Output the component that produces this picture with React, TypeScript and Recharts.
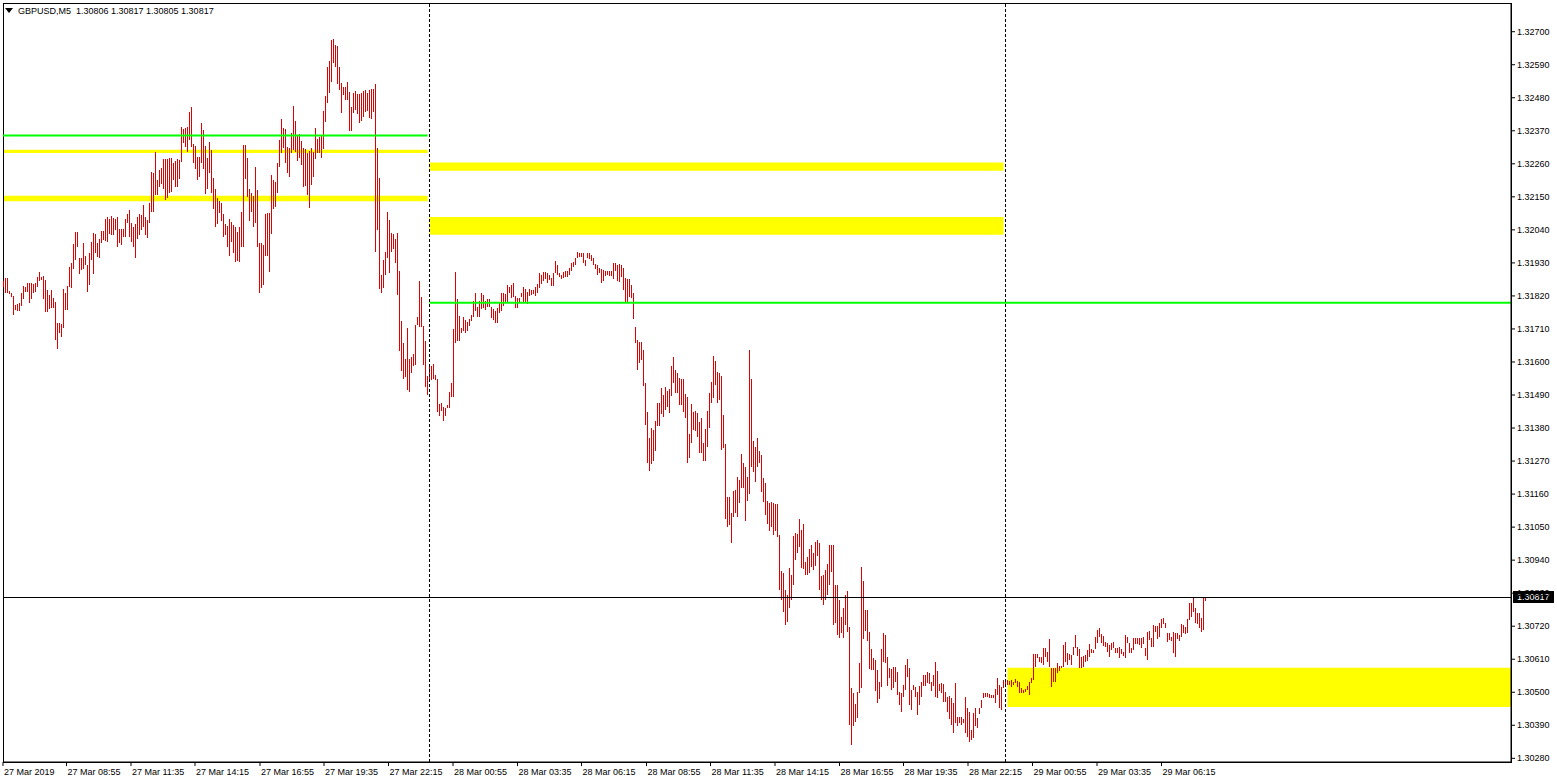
import {
  ComposedChart,
  Bar,
  XAxis,
  YAxis,
  ReferenceArea,
  ReferenceLine,
} from 'recharts';

// [high, low] per M5 bar
const bars27: [number, number][] = [
  [1.3187,1.3185],[1.3188,1.3183],[1.3188,1.3183],[1.31837,1.31827],[1.3183,1.31817],[1.3182,1.31757],[1.3179,1.31773],[1.31793,1.3177],[1.31797,1.3177],[1.3183,1.31787],
  [1.31853,1.3181],[1.3185,1.31833],[1.31863,1.31833],[1.31863,1.31797],[1.31863,1.3181],[1.3186,1.3183],[1.31863,1.31833],[1.31883,1.3185],[1.319,1.3187],[1.31883,1.31873],
  [1.31887,1.3181],[1.31873,1.31767],[1.3184,1.31767],[1.31823,1.31777],[1.3184,1.3178],[1.31813,1.3178],[1.318,1.31673],[1.3173,1.31643],[1.3173,1.31697],[1.31727,1.31683],
  [1.31843,1.31713],[1.3183,1.31773],[1.31853,1.31773],[1.31917,1.3185],[1.3193,1.31847],[1.31993,1.3191],[1.32033,1.3194],[1.32033,1.31983],[1.31947,1.31893],[1.31947,1.31907],
  [1.31997,1.3191],[1.31953,1.31923],[1.31923,1.31833],[1.31963,1.31857],[1.32,1.3194],[1.3203,1.31893],[1.32027,1.31963],[1.31997,1.3195],[1.3201,1.31947],[1.32037,1.31997],
  [1.32037,1.32007],[1.32077,1.32003],[1.32083,1.32],[1.32077,1.32027],[1.32087,1.32023],[1.3208,1.32023],[1.32077,1.3204],[1.32083,1.31983],[1.32043,1.31997],[1.32043,1.3199],
  [1.32043,1.32017],[1.32077,1.32017],[1.32093,1.32063],[1.32107,1.32017],[1.32063,1.32],[1.3205,1.31983],[1.3206,1.31947],[1.32083,1.3201],[1.32093,1.32023],[1.3209,1.3204],
  [1.32123,1.3205],[1.32083,1.32023],[1.32073,1.32013],[1.3213,1.32063],[1.32233,1.321],[1.3223,1.321],[1.323,1.32157],[1.32207,1.32157],[1.3224,1.32183],[1.32247,1.32193],
  [1.32277,1.32177],[1.32277,1.3214],[1.32277,1.32147],[1.3228,1.32163],[1.3228,1.32167],[1.32263,1.32207],[1.3227,1.32183],[1.32277,1.32183],[1.32273,1.3221],[1.32383,1.32267],
  [1.32377,1.3233],[1.3238,1.32317],[1.32383,1.323],[1.32433,1.3234],[1.3245,1.32317],[1.32327,1.32263],[1.3232,1.32243],[1.32283,1.32207],[1.32283,1.32217],[1.32397,1.32263],
  [1.32373,1.32243],[1.3232,1.3216],[1.3228,1.32177],[1.32333,1.3223],[1.32307,1.32163],[1.32213,1.3211],[1.32177,1.3205],[1.32147,1.3206],[1.32137,1.32097],[1.3213,1.3207],
  [1.32093,1.32017],[1.3206,1.32023],[1.32053,1.31983],[1.32077,1.31953],[1.32067,1.32],[1.32057,1.31963],[1.3205,1.31933],[1.32033,1.31937],[1.3205,1.31933],[1.321,1.31983],
  [1.32323,1.31983],[1.32323,1.3221],[1.3228,1.3215],[1.32177,1.3207],[1.32163,1.321],[1.32153,1.3205],[1.3225,1.32063],[1.32173,1.31983],[1.31997,1.3183],[1.31997,1.31847],
  [1.3199,1.31857],[1.32093,1.31953],[1.32097,1.31953],[1.32097,1.319],[1.32223,1.32027],[1.32207,1.3211],[1.322,1.32117],[1.32263,1.32163],[1.3234,1.3225],[1.3241,1.32297],
  [1.3238,1.32313],[1.32377,1.32263],[1.32317,1.3223],[1.32313,1.32217],[1.32363,1.32297],[1.32453,1.32307],[1.32403,1.323],[1.32353,1.3227],[1.3236,1.3228],[1.32337,1.32257],
  [1.32313,1.32183],[1.3231,1.32187],[1.32297,1.32157],[1.32303,1.32113],[1.32313,1.3219],[1.323,1.32217],[1.3238,1.32277],[1.32343,1.32297],[1.3235,1.32297],[1.32353,1.3228],
  [1.32437,1.3231],[1.32487,1.324],[1.32583,1.32463],[1.32603,1.32497],[1.32673,1.32533],[1.32677,1.32597],[1.32657,1.32583],[1.32653,1.32527],[1.32583,1.32507],[1.3253,1.3243],
  [1.32517,1.3249],[1.32517,1.32473],[1.32533,1.32473],[1.325,1.3237],[1.3245,1.3237],[1.32497,1.3243],[1.32503,1.3244],[1.32493,1.32427],[1.32493,1.32397],[1.32497,1.32403],
  [1.32503,1.32417],[1.32507,1.32433],[1.32497,1.32437],[1.32507,1.32413],[1.3251,1.3241],[1.3251,1.32433],[1.32527,1.31967],[1.32313,1.3204],[1.32213,1.31843],[1.3189,1.3183],
  [1.3194,1.31847],[1.31967,1.3189],[1.321,1.31947],[1.32073,1.31897],[1.3203,1.31967],[1.32027,1.31977],[1.3201,1.3193],[1.3203,1.31823],[1.31903,1.31637],[1.31737,1.3157],
  [1.31663,1.31543],[1.3161,1.3155],[1.31713,1.31507],[1.3161,1.315],[1.31617,1.31563],[1.31627,1.31587],[1.31723,1.3159],[1.3175,1.31723],[1.3187,1.31717],[1.31817,1.31717],
  [1.3172,1.3159],[1.3167,1.31517],[1.31553,1.3149],
];

const bars28: [number, number][] = [
  [1.31587,1.3154],[1.31587,1.3154],[1.31593,1.31543],[1.31557,1.3154],[1.31543,1.31433],[1.3146,1.3142],[1.31463,1.31437],[1.3145,1.31403],[1.31447,1.3142],[1.31457,1.31447],
  [1.315,1.31447],[1.3153,1.31483],[1.3171,1.31483],[1.319,1.31663],[1.3181,1.3167],[1.31753,1.3167],[1.31713,1.31697],[1.3175,1.31703],[1.3174,1.31697],[1.31733,1.31703],
  [1.31743,1.3172],[1.31757,1.31737],[1.31803,1.3175],[1.3183,1.3177],[1.31783,1.3175],[1.31803,1.3175],[1.3183,1.31777],[1.31823,1.3178],[1.31803,1.31773],[1.3181,1.31783],
  [1.3181,1.31783],[1.31783,1.31747],[1.31777,1.3174],[1.3177,1.3173],[1.3178,1.3173],[1.318,1.31763],[1.3183,1.3177],[1.3183,1.31787],[1.31827,1.318],[1.31857,1.318],
  [1.3185,1.3183],[1.31857,1.31813],[1.31863,1.31817],[1.3182,1.3178],[1.31813,1.3178],[1.31813,1.31797],[1.3183,1.31817],[1.3185,1.31797],[1.31843,1.318],[1.31833,1.31793],
  [1.31843,1.3182],[1.3184,1.31823],[1.3184,1.31827],[1.3185,1.3182],[1.3186,1.3183],[1.31897,1.31847],[1.3189,1.3186],[1.319,1.3187],[1.319,1.31877],[1.31897,1.31863],
  [1.3189,1.31873],[1.3188,1.31853],[1.31897,1.31853],[1.31937,1.31897],[1.31923,1.3189],[1.31897,1.31883],[1.3189,1.31877],[1.319,1.3188],[1.31903,1.31883],[1.31903,1.31883],
  [1.31913,1.3189],[1.3193,1.31903],[1.31933,1.31917],[1.31947,1.31923],[1.31967,1.31947],[1.31963,1.3195],[1.31963,1.3195],[1.31963,1.3193],[1.3194,1.3192],[1.31963,1.31947],
  [1.31963,1.31943],[1.31957,1.31937],[1.31947,1.31923],[1.31927,1.3191],[1.31923,1.3189],[1.31913,1.31897],[1.3191,1.31863],[1.31907,1.3187],[1.31903,1.31887],[1.31903,1.3189],
  [1.31903,1.31887],[1.31903,1.31887],[1.3193,1.31877],[1.3193,1.31903],[1.31923,1.3187],[1.31927,1.31867],[1.31923,1.31883],[1.31913,1.3184],[1.3188,1.318],[1.31877,1.318],
  [1.31877,1.31817],[1.31857,1.31813],[1.3183,1.31743],
  [1.31717,1.31663],[1.31673,1.31573],[1.31667,1.31597],[1.31667,1.31607],[1.3164,1.3152],[1.3153,1.3139],[1.31433,1.31263],[1.31347,1.31237],[1.3138,1.3126],[1.31373,1.3127],
  [1.31403,1.31303],[1.31463,1.31387],[1.31463,1.31387],[1.31513,1.31427],[1.3149,1.31417],[1.31517,1.3144],[1.31503,1.3145],[1.3151,1.3143],[1.31587,1.31487],[1.31617,1.3153],
  [1.31573,1.31497],[1.31563,1.31497],[1.31547,1.31457],[1.31543,1.31457],[1.31543,1.31433],[1.31493,1.31413],[1.31483,1.31263],[1.3136,1.3128],[1.3146,1.3133],[1.31433,1.31373],
  [1.31437,1.3137],[1.3143,1.3135],[1.314,1.31297],[1.31413,1.31297],[1.3133,1.3127],[1.31377,1.3127],[1.31437,1.31317],[1.31497,1.3138],[1.31533,1.31463],[1.3162,1.3148],
  [1.31603,1.31523],[1.31567,1.31463],[1.31563,1.31473],[1.31553,1.31307],[1.31423,1.31313],[1.31327,1.31077],[1.3115,1.3105],[1.3115,1.31057],[1.31097,1.30997],[1.3117,1.31083],
  [1.31173,1.31097],[1.31217,1.31083],[1.31207,1.3113],[1.31293,1.3118],[1.31263,1.3118],[1.3125,1.3107],[1.31217,1.31137],[1.3164,1.3116],[1.31543,1.3125],[1.31337,1.31233],
  [1.31317,1.312],[1.31347,1.3125],[1.31303,1.31263],[1.3129,1.31167],[1.31213,1.31133],[1.31197,1.3109],[1.31137,1.3106],[1.3113,1.31037],[1.31133,1.3105],[1.3113,1.31023],
  [1.31127,1.31037],[1.31127,1.31017],
  [1.31023,1.3084],[1.30903,1.30807],[1.30897,1.30767],[1.3084,1.30723],[1.30823,1.30733],[1.30913,1.3078],[1.3089,1.30807],[1.3102,1.30857],[1.3103,1.3094],[1.31027,1.30963],
  [1.31077,1.30983],[1.3104,1.30913],[1.3106,1.3091],[1.30933,1.3089],[1.3095,1.3089],[1.30977,1.30897],[1.3099,1.30917],[1.30963,1.30907],[1.31,1.3092],[1.31007,1.30953],
  [1.30997,1.3084],[1.30887,1.30807],[1.3089,1.3079],[1.30907,1.30807],[1.30927,1.30823],[1.3099,1.30857],
  [1.3099,1.309],[1.3099,1.30723],[1.30857,1.3073],[1.30857,1.3069],[1.30807,1.3068],[1.3075,1.30697],[1.3078,1.3068],[1.30823,1.30723],[1.30837,1.307],[1.30717,1.3039],
  [1.30513,1.30323],[1.30497,1.30387],[1.3046,1.304],[1.305,1.30413],[1.30597,1.30497],[1.30917,1.30513],[1.3087,1.30677],[1.30773,1.30703],[1.30773,1.3067],[1.307,1.30577],
  [1.30643,1.30573],[1.30613,1.30573],[1.30607,1.30503],[1.30573,1.30463],[1.30533,1.30477],[1.30643,1.30517],[1.30697,1.306],[1.3069,1.30597],[1.30617,1.3052],[1.3058,1.30547],
  [1.30577,1.30507],[1.30583,1.30513],[1.30583,1.30533],[1.30567,1.3049],[1.305,1.30457],[1.30497,1.30433],[1.30523,1.30483],[1.3059,1.30507],[1.3061,1.3055],[1.3058,1.30457],
  [1.30507,1.3044],[1.30523,1.30507],[1.30517,1.30483],[1.305,1.30423],[1.3052,1.30457],[1.30533,1.30483],[1.30557,1.3052],[1.30557,1.3052],[1.30567,1.3053],[1.30563,1.30527],
  [1.30533,1.30503],[1.30557,1.3052],[1.306,1.30483],[1.3057,1.3048],[1.30527,1.30503],[1.3053,1.30497],[1.30527,1.30467],[1.305,1.30467],[1.30483,1.30433],[1.30487,1.3041],
  [1.3048,1.3039],[1.30463,1.30363],[1.3053,1.30397],[1.30417,1.30387],[1.30417,1.30397],[1.30417,1.3039],[1.3041,1.30397],[1.30483,1.30363],[1.30447,1.3035],[1.30433,1.30333],
  [1.30373,1.3034],[1.3043,1.30347],[1.30447,1.30387],[1.30413,1.3038],[1.30447,1.30427],[1.30473,1.30447],[1.30497,1.3048],[1.30497,1.30483],[1.30497,1.30483],[1.30493,1.3048],
  [1.3049,1.3048],[1.3049,1.3048],[1.3051,1.30463],[1.30547,1.3049],[1.30523,1.30447],[1.30517,1.3044],[1.3054,1.30513],
];

const bars29: [number, number][] = [
  [1.3054,1.30523],[1.3054,1.30523],[1.30537,1.30523],[1.3054,1.30517],[1.30533,1.30523],[1.30543,1.3053],[1.30537,1.30517],[1.30533,1.30497],[1.30513,1.30497],[1.30507,1.30497],
  [1.3051,1.305],[1.3052,1.30507],[1.30533,1.3049],[1.30547,1.3053],[1.30627,1.3054],[1.30627,1.30583],[1.30627,1.30613],[1.30617,1.306],[1.30617,1.30597],[1.30647,1.3059],
  [1.30647,1.30617],[1.30633,1.306],[1.30677,1.30583],[1.3058,1.30517],[1.3058,1.30533],[1.3058,1.30533],[1.30597,1.30563],[1.30587,1.3057],[1.30587,1.3058],[1.30657,1.30583],
  [1.30667,1.306],[1.3063,1.3059],[1.30627,1.30607],[1.30623,1.3059],[1.3065,1.30623],[1.3069,1.30647],[1.3065,1.3062],[1.30643,1.3058],[1.30617,1.3058],[1.3062,1.30583],
  [1.30623,1.306],[1.3064,1.30603],[1.3066,1.30617],[1.30643,1.3063],[1.3064,1.3063],[1.30683,1.30643],[1.30707,1.30663],[1.30713,1.30683],[1.30693,1.30663],[1.30687,1.30653],
  [1.30667,1.3065],[1.30663,1.30633],[1.30657,1.30617],[1.30663,1.3064],[1.30667,1.30647],[1.30647,1.3063],[1.30647,1.3063],[1.3065,1.30613],[1.30643,1.30627],[1.30633,1.3062],
  [1.3069,1.30613],[1.30683,1.30663],[1.30663,1.3063],[1.30647,1.3063],[1.3068,1.3064],[1.3068,1.3066],[1.3068,1.3066],[1.3068,1.30657],[1.3068,1.30647],[1.30683,1.3066],
  [1.30647,1.3062],[1.307,1.30607],[1.30703,1.30673],[1.3068,1.3065],[1.30723,1.3065],[1.3072,1.307],[1.3072,1.30677],[1.3073,1.30683],[1.30743,1.30713],[1.30747,1.30727],
  [1.3073,1.30713],[1.30697,1.30667],[1.30697,1.30673],[1.30683,1.3067],[1.307,1.3063],[1.30697,1.30617],[1.30697,1.30677],[1.3069,1.3067],[1.30727,1.30683],[1.30723,1.30697],
  [1.30717,1.30693],[1.30743,1.30697],[1.30797,1.3074],[1.30797,1.3075],[1.30813,1.30767],[1.3078,1.3073],[1.30763,1.30727],[1.30763,1.30713],[1.30747,1.307],[1.30817,1.30707],
  [1.30817,1.30805],
];

const priceTicks = [
  1.327, 1.3259, 1.3248, 1.3237, 1.3226, 1.3215, 1.3204, 1.3193, 1.3182, 1.3171, 1.316, 1.3149,
  1.3138, 1.3127, 1.3116, 1.3105, 1.3094, 1.3083, 1.3072, 1.3061, 1.305, 1.3039, 1.3028,
];

const timeTickPos = [-0.25, 31.5, 63.75, 95.75, 128.25, 160.25, 192.5, 224.75, 257, 289, 321.5, 353.5, 385.75, 418, 450, 482.25, 514.5, 546.75, 579];
const timeLabels = [
  '27 Mar 2019', '27 Mar 08:55', '27 Mar 11:35', '27 Mar 14:15', '27 Mar 16:55', '27 Mar 19:35', '27 Mar 22:15',
  '28 Mar 00:55', '28 Mar 03:35', '28 Mar 06:15', '28 Mar 08:55', '28 Mar 11:35', '28 Mar 14:15', '28 Mar 16:55',
  '28 Mar 19:35', '28 Mar 22:15', '29 Mar 00:55', '29 Mar 03:35', '29 Mar 06:15',
];

// day separators (bar index of 00:00)
const daySeps = [213, 501];

// zones drawn on the chart: [fromBar, toBar, top, bottom]
const yellowZones: [number, number, number, number][] = [
  [-0.25, 212, 1.32307, 1.32296],
  [-0.25, 212, 1.32154, 1.32135],
  [213, 500, 1.32264, 1.32237],
  [213, 500, 1.32083, 1.32024],
  [502, 753.75, 1.30582, 1.30451],
];
const greenLevels: [number, number, number][] = [
  [-0.25, 212, 1.32354],
  [213, 753.75, 1.31797],
];

const header = { symbol: 'GBPUSD,M5', open: 1.30806, high: 1.30817, low: 1.30805, close: 1.30817 };

const X_DOMAIN: [number, number] = [-0.25, 753.75];
const Y_DOMAIN: [number, number] = [1.302677, 1.327956];
const FONT = '"Liberation Sans", Arial, sans-serif';
const BAR_COLOR = '#e00000';

const data = [...bars27, ...bars28, ...bars29].map(([h, l], i) => ({ i, range: [l, h] }));

// one crisp pixel column per bar, high to low
const HLBar = (props: any) => {
  const { x, y, width, height } = props;
  if (x == null || y == null) return null;
  const cx = Math.floor(x + width / 2);
  const top = Math.round(y);
  const h = Math.max(1, Math.round(y + height) - top);
  return <rect x={cx} y={top} width={1} height={h} fill={BAR_COLOR} shapeRendering="crispEdges" />;
};

const TimeTick = (props: any) => {
  const { x, y, index } = props;
  return (
    <text x={x + 1} y={y + 7} fontSize={9} fontFamily={FONT} fill="#000">
      {timeLabels[index]}
    </text>
  );
};

const PriceTick = (props: any) => {
  const { x, y, payload } = props;
  return (
    <text x={x} y={y + 3} fontSize={9} fontFamily={FONT} fill="#000">
      {Number(payload.value).toFixed(5)}
    </text>
  );
};

const BidLabel = (props: any) => {
  const vb = props.viewBox || {};
  const x = Math.round((vb.x ?? 0) + (vb.width ?? 0) + 2);
  const y = Math.round(vb.y ?? 0);
  return (
    <g>
      <rect x={x} y={y - 6} width={41} height={12} fill="#000" />
      <text x={x + 4} y={y + 3} fontSize={9} fontFamily={FONT} fill="#fff">
        {header.close.toFixed(5)}
      </text>
    </g>
  );
};

export default function App() {
  return (
    <div style={{ position: 'absolute', left: 0, top: 0, width: 1557, height: 783, background: '#fff', overflow: 'hidden' }}>
      <ComposedChart
        width={1557}
        height={783}
        data={data}
        margin={{ top: 3, right: 0, bottom: 0, left: 3 }}
        barCategoryGap={0}
      >
        <XAxis
          type="number"
          dataKey="i"
          domain={X_DOMAIN}
          allowDataOverflow
          ticks={timeTickPos}
          interval={0}
          height={21}
          tickSize={4}
          tickLine={{ stroke: '#000' }}
          axisLine={{ stroke: '#000' }}
          tick={<TimeTick />}
        />
        <YAxis
          orientation="right"
          type="number"
          domain={Y_DOMAIN}
          allowDataOverflow
          ticks={priceTicks}
          interval={0}
          width={46}
          tickSize={4}
          tickLine={{ stroke: '#000' }}
          axisLine={{ stroke: '#000' }}
          tick={<PriceTick />}
        />
        {yellowZones.map(([a, b, top, bottom], k) => (
          <ReferenceArea
            key={`y${k}`}
            x1={a}
            x2={b}
            y1={bottom}
            y2={top}
            fill="#ffff00"
            fillOpacity={1}
            stroke="none"
          />
        ))}
        <Bar dataKey="range" fill={BAR_COLOR} barSize={1} shape={<HLBar />} isAnimationActive={false} />
        {greenLevels.map(([a, b, p], k) => (
          <ReferenceLine
            key={`g${k}`}
            segment={[{ x: a, y: p }, { x: b, y: p }]}
            stroke="#00ff00"
            strokeWidth={2}
          />
        ))}
        {daySeps.map((d) => (
          <ReferenceLine key={`d${d}`} x={d} stroke="#000" strokeDasharray="3 2" shapeRendering="crispEdges" />
        ))}
        <ReferenceLine y={header.close} stroke="#000" shapeRendering="crispEdges" label={<BidLabel />} />
        <ReferenceArea
          x1={X_DOMAIN[0]}
          x2={X_DOMAIN[1]}
          y1={Y_DOMAIN[0]}
          y2={Y_DOMAIN[1]}
          fill="none"
          stroke="#000"
          shapeRendering="crispEdges"
        />
      </ComposedChart>
      <div
        style={{
          position: 'absolute',
          left: 5,
          top: 5,
          fontFamily: FONT,
          fontSize: 9,
          lineHeight: '12px',
          color: '#000',
          whiteSpace: 'pre',
          display: 'flex',
          alignItems: 'center',
        }}
      >
        <svg width={9} height={6} style={{ marginRight: 4 }}>
          <polygon points="0,0 8,0 4,5" fill="#000" />
        </svg>
        {`${header.symbol}  ${header.open.toFixed(5)} ${header.high.toFixed(5)} ${header.low.toFixed(5)} ${header.close.toFixed(5)}`}
      </div>
    </div>
  );
}
